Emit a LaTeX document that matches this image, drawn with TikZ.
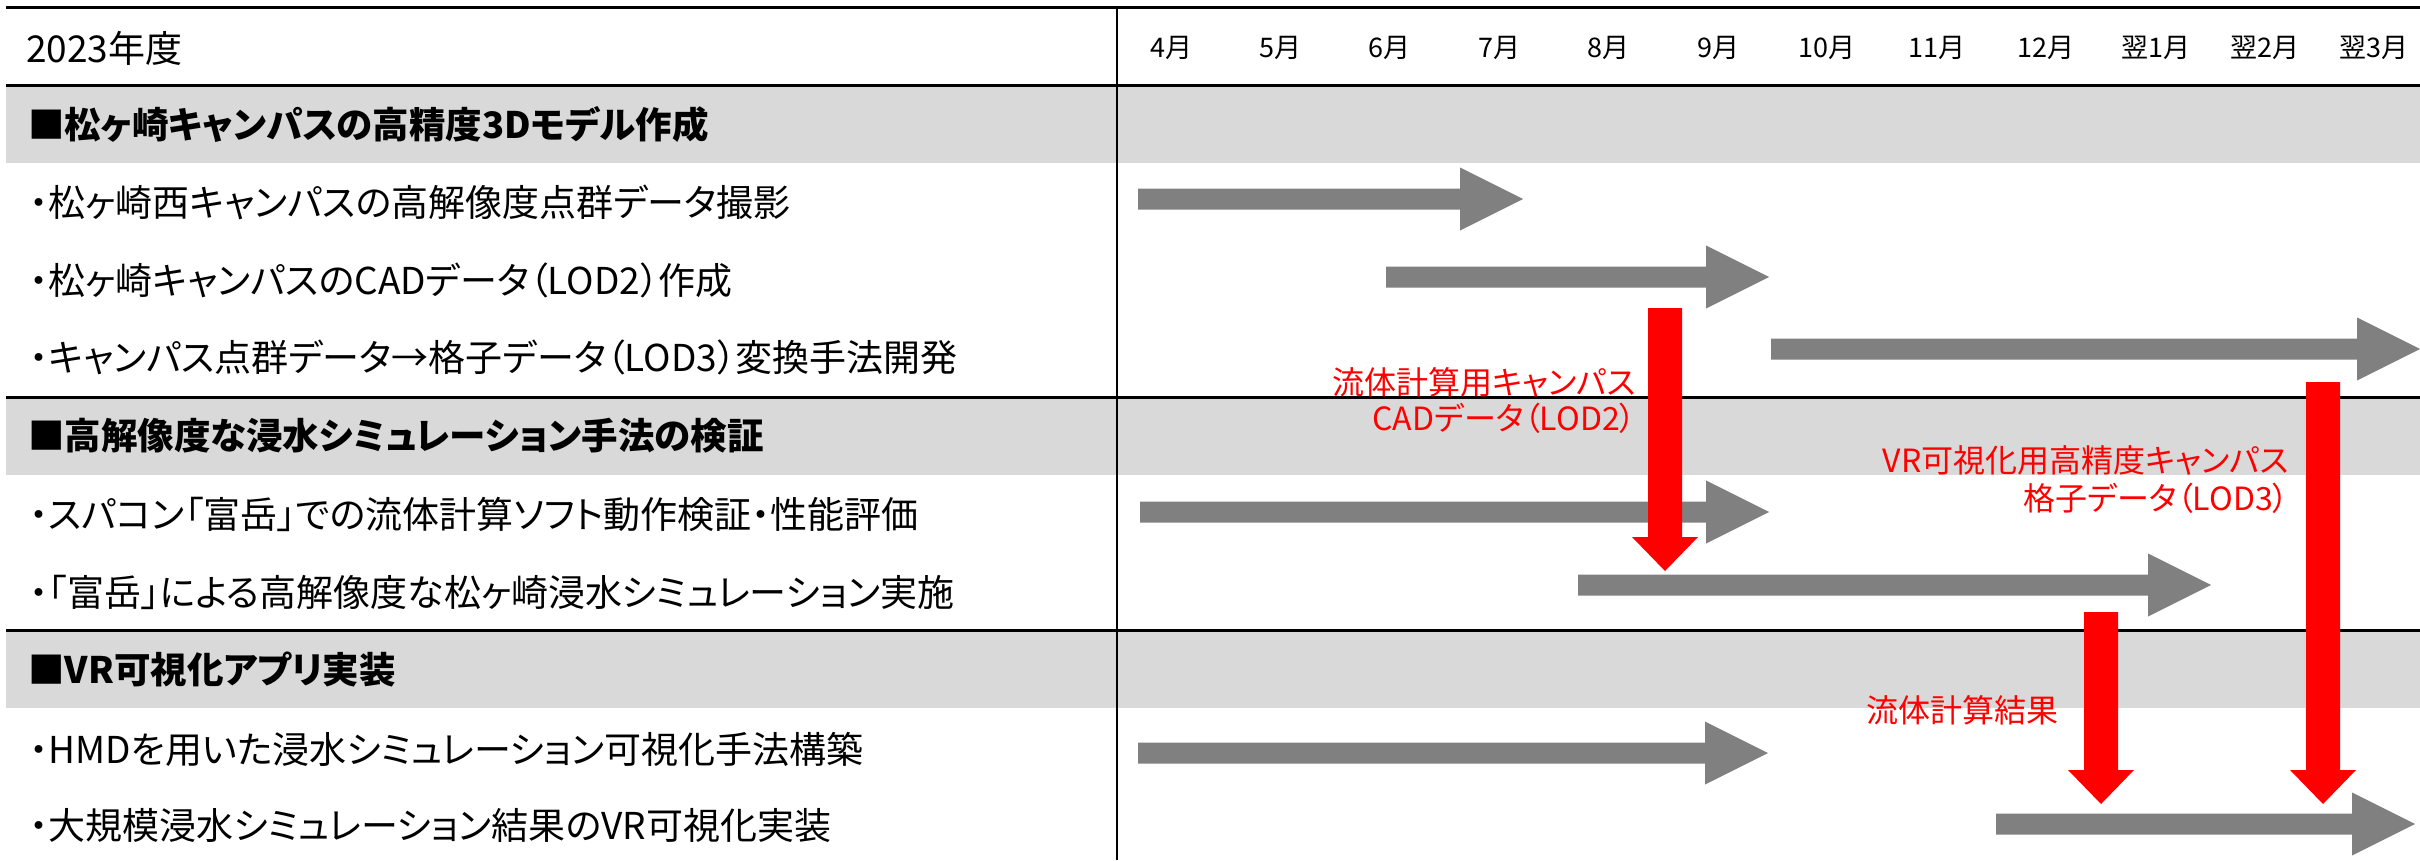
\documentclass[tikz,border=0pt]{standalone}
\usepackage{fontspec}
\setmainfont{Noto Sans CJK JP}[RawFeature=+palt]
\definecolor{bandgray}{HTML}{D9D9D9}
\definecolor{bargray}{HTML}{808080}
\definecolor{redarrow}{HTML}{FF0000}
\newcommand\hblk[3]{% x1, x2(tip), y
  \fill[bargray] (#1,#3-10.5) -- (#2-63,#3-10.5) -- (#2-63,#3-31.5) -- (#2,#3) -- (#2-63,#3+31.5) -- (#2-63,#3+10.5) -- (#1,#3+10.5) -- cycle;}
\newcommand\vblk[3]{% x, y1, y2(tip)
  \fill[redarrow] (#1-17,#2) -- (#1+17,#2) -- (#1+17,#3-34) -- (#1+33,#3-34) -- (#1,#3) -- (#1-33,#3-34) -- (#1-17,#3-34) -- cycle;}
\begin{document}
\begin{tikzpicture}[x=1pt,y=-1pt,
  rowtext/.style={anchor=west,inner sep=0pt,font=\fontsize{37}{37}\selectfont},
  sectext/.style={anchor=west,inner sep=0pt,font=\fontsize{36.5}{36.5}\selectfont\bfseries},
  monthtext/.style={inner sep=0pt,font=\fontsize{27}{27}\selectfont},
  redtext/.style={anchor=east,inner sep=0pt,text=redarrow,font=\fontsize{32}{32}\selectfont},
  rule/.style={line width=3pt}]
\useasboundingbox (0,0) rectangle (2420,860);
\fill[white] (0,0) rectangle (2420,860);
% bands
\fill[bandgray] (6,85) rectangle (2420,163);
\fill[bandgray] (6,397) rectangle (2420,475);
\fill[bandgray] (6,630) rectangle (2420,708);
% rules
\draw[rule] (6,7) -- (2420,7);
\draw[rule] (6,85) -- (2420,85);
\draw[rule] (6,397) -- (2420,397);
\draw[rule] (6,630) -- (2420,630);
\draw[line width=2pt] (1117,7) -- (1117,860);
% header
\node[rowtext,font=\fontsize{37}{37}\selectfont] (yr) at (26,48) {2023年度};
\foreach \i/\m in {0/4月,1/5月,2/6月,3/7月,4/8月,5/9月,6/10月,7/11月,8/12月,9/翌1月,10/翌2月,11/翌3月}
  \node[monthtext] (m\i) at (1171+109.4*\i,48) {\m};
% section headings
\node[sectext] (s1) at (28,124) {■松ヶ崎キャンパスの高精度3Dモデル作成};
\node[sectext] (s2) at (28,436) {■高解像度な浸水シミュレーション手法の検証};
\node[sectext] (s3) at (28,669) {■VR可視化アプリ実装};
% rows
\node[rowtext] (r1) at (30,202) {・松ヶ崎西キャンパスの高解像度点群データ撮影};
\node[rowtext] (r2) at (30,280) {・松ヶ崎キャンパスのCADデータ（LOD2）作成};
\node[rowtext] (r3) at (30,357) {・キャンパス点群データ→格子データ（LOD3）変換手法開発};
\node[rowtext] (r4) at (30,514) {・スパコン「富岳」での流体計算ソフト動作検証・性能評価};
\node[rowtext] (r5) at (30,592) {・「富岳」による高解像度な松ヶ崎浸水シミュレーション実施};
\node[rowtext] (r6) at (30,749) {・HMDを用いた浸水シミュレーション可視化手法構築};
\node[rowtext] (r7) at (30,826) {・大規模浸水シミュレーション結果のVR可視化実装};
% gray bars
\hblk{1138}{1523}{199}
\hblk{1386}{1769}{277}
\hblk{1771}{2420}{349}
\hblk{1140}{1769}{512}
\hblk{1578}{2211}{585}
\hblk{1138}{1768}{753}
\hblk{1996}{2415}{824}
% red arrows
\vblk{1665}{308}{571}
\vblk{2323}{382}{804}
\vblk{2101}{612}{804}
% red labels
\node[redtext] (l1a) at (1636,382) {流体計算用キャンパス};
\node[redtext] (l1b) at (1636,418) {CADデータ（LOD2）};
\node[redtext] (l2a) at (2289,460) {VR可視化用高精度キャンパス};
\node[redtext] (l2b) at (2289,498) {格子データ（LOD3）};
\node[redtext] (l3) at (2059,710) {流体計算結果};
\end{tikzpicture}
\end{document}
